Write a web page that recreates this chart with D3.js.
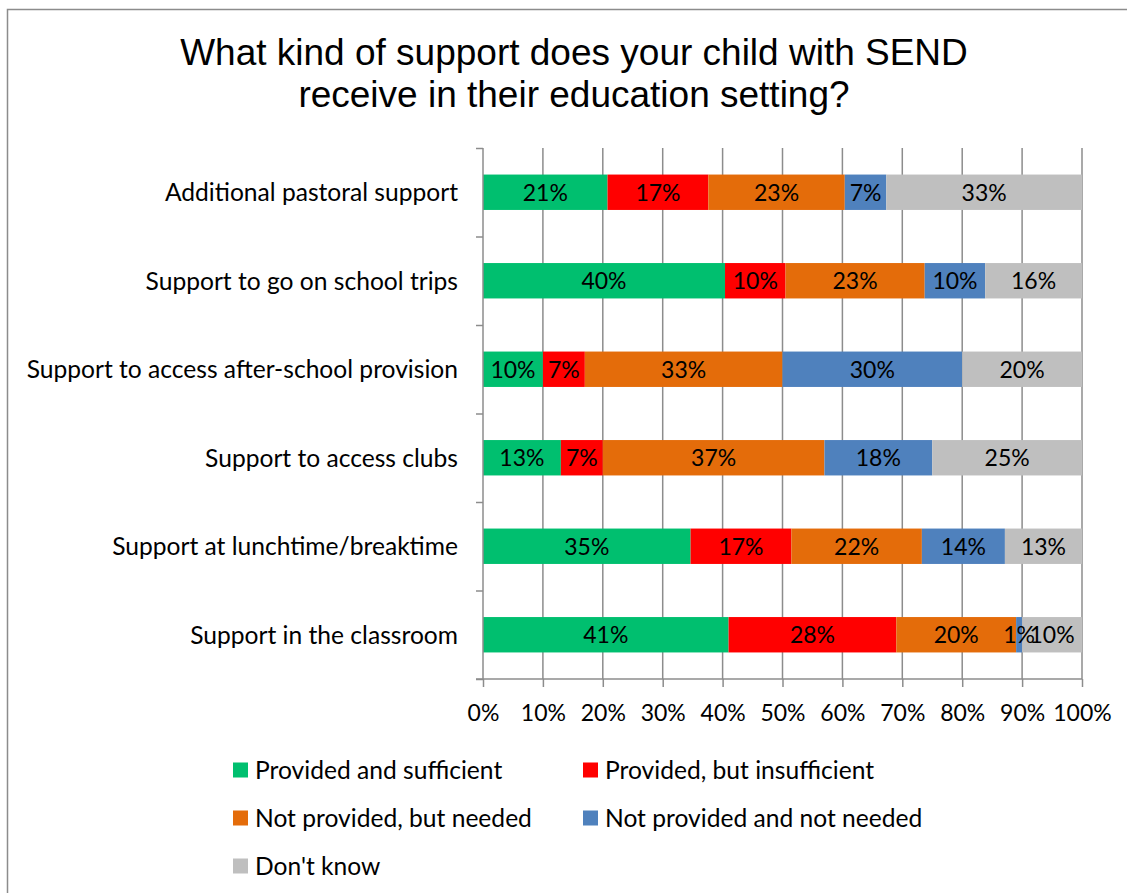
<!DOCTYPE html>
<html>
<head>
<meta charset="utf-8">
<script src="https://cdn.jsdelivr.net/npm/d3@7"></script>
<style>
  html, body { margin: 0; padding: 0; background: #fff; }
  svg { display: block; }
</style>
</head>
<body>
<svg id="chart" width="1127" height="893"></svg>
<script>
// Support categories, top to bottom
const categories = [
  "Additional pastoral support",
  "Support to go on school trips",
  "Support to access after-school provision",
  "Support to access clubs",
  "Support at lunchtime/breaktime",
  "Support in the classroom"
];

const seriesNames = [
  "Provided and sufficient",
  "Provided, but insufficient",
  "Not provided, but needed",
  "Not provided and not needed",
  "Don't know"
];

// Percentages per category, one array per response
const providedSufficient   = [21, 40, 10, 13, 35, 41];
const providedInsufficient = [17, 10,  7,  7, 17, 28];
const notProvidedNeeded    = [23, 23, 33, 37, 22, 20];
const notProvidedNotNeeded = [ 7, 10, 30, 18, 14,  1];
const dontKnow             = [33, 16, 20, 25, 13, 10];

const seriesColors = ["#00BF6F", "#FF0000", "#E46C0A", "#4F81BD", "#BFBFBF"];

const xTicks = [0, 0.1, 0.2, 0.3, 0.4, 0.5, 0.6, 0.7, 0.8, 0.9, 1.0];

const rows = categories.map((c, i) => ({
  category: c,
  [seriesNames[0]]: providedSufficient[i],
  [seriesNames[1]]: providedInsufficient[i],
  [seriesNames[2]]: notProvidedNeeded[i],
  [seriesNames[3]]: notProvidedNotNeeded[i],
  [seriesNames[4]]: dontKnow[i]
}));

const stacked = d3.stack()
  .keys(seriesNames)
  .offset(d3.stackOffsetExpand)(rows);

const svg = d3.select("#chart");
const labelFont = "Lato, 'Open Sans', sans-serif";
const textSize = 24.6;
const numberSize = 23;

// Outer chart frame
svg.append("rect")
  .attr("x", 7.5).attr("y", 9.5)
  .attr("width", 1130).attr("height", 900)
  .attr("fill", "none").attr("stroke", "#8c8c8c").attr("stroke-width", 1.5);

// Title
const title = svg.append("text")
  .attr("text-anchor", "middle")
  .attr("font-family", "'Liberation Sans', Arial, sans-serif")
  .attr("font-size", 37)
  .attr("fill", "#000");
title.append("tspan").attr("x", 574).attr("y", 65).text("What kind of support does your child with SEND");
title.append("tspan").attr("x", 574).attr("y", 107).text("receive in their education setting?");

const plotLeft = 483, plotRight = 1082, plotTop = 148, plotBottom = 679;

const x = d3.scaleLinear().domain([0, 1]).range([plotLeft, plotRight]);
const y = d3.scaleBand().domain(categories).range([plotTop, plotBottom]).paddingInner(0.6).paddingOuter(0.3);

// Vertical gridlines
svg.append("g")
  .selectAll("line")
  .data(xTicks.slice(1))
  .join("line")
  .attr("x1", d => x(d)).attr("x2", d => x(d))
  .attr("y1", plotTop).attr("y2", plotBottom)
  .attr("stroke", "#8c8c8c").attr("stroke-width", 1.5);

// Stacked bars
const segments = stacked.flatMap((layer, i) =>
  layer.map(v => ({ v, key: layer.key, color: seriesColors[i] })));

svg.append("g")
  .selectAll("rect")
  .data(segments)
  .join("rect")
  .attr("x", d => x(d.v[0]))
  .attr("y", d => y(d.v.data.category))
  .attr("width", d => x(d.v[1]) - x(d.v[0]))
  .attr("height", y.bandwidth())
  .attr("fill", d => d.color);

// Value labels, drawn above every segment
svg.append("g")
  .selectAll("text")
  .data(segments)
  .join("text")
  .attr("x", d => (x(d.v[0]) + x(d.v[1])) / 2)
  .attr("y", d => y(d.v.data.category) + y.bandwidth() / 2)
  .attr("dy", "0.36em")
  .attr("text-anchor", "middle")
  .attr("font-family", labelFont)
  .attr("font-size", numberSize)
  .attr("fill", "#000")
  .text(d => d.v.data[d.key] + "%");

// Category axis
const yAxis = d3.axisLeft(d3.scaleLinear().domain([0, categories.length]).range([plotTop, plotBottom]))
  .ticks(categories.length).tickSize(7).tickFormat("");
const yg = svg.append("g").attr("transform", `translate(${plotLeft},0)`).call(yAxis);
yg.selectAll("path, line").attr("stroke", "#8c8c8c").attr("stroke-width", 1.5);
yg.select(".domain").attr("d", `M0,${plotTop}V${plotBottom}`);

// Category labels
svg.append("g")
  .selectAll("text")
  .data(categories)
  .join("text")
  .attr("x", 458)
  .attr("y", d => y(d) + y.bandwidth() / 2)
  .attr("dy", "0.36em")
  .attr("text-anchor", "end")
  .attr("font-family", labelFont)
  .attr("font-size", textSize)
  .attr("fill", "#000")
  .text(d => d);

// Percentage axis
const xAxis = d3.axisBottom(x).tickValues(xTicks).tickSize(8).tickPadding(18)
  .tickFormat(d3.format(".0%"));
const xg = svg.append("g").attr("transform", `translate(0,${plotBottom})`).call(xAxis);
xg.selectAll("path, line").attr("stroke", "#8c8c8c").attr("stroke-width", 1.5);
xg.select(".domain").attr("d", `M${plotLeft - 7},0H${plotRight}`);
xg.selectAll("text")
  .attr("font-family", labelFont)
  .attr("font-size", numberSize)
  .attr("fill", "#000");

// Legend
const legendPos = [
  [233, 770], [583, 770],
  [233, 818], [583, 818],
  [233, 866]
];
const legend = svg.append("g")
  .selectAll("g")
  .data(seriesNames)
  .join("g")
  .attr("transform", (d, i) => `translate(${legendPos[i][0]},${legendPos[i][1]})`);
legend.append("rect")
  .attr("x", 0).attr("y", -7.5)
  .attr("width", 15).attr("height", 15)
  .attr("fill", (d, i) => seriesColors[i]);
legend.append("text")
  .attr("x", 22).attr("y", 0)
  .attr("dy", "0.36em")
  .attr("font-family", labelFont)
  .attr("font-size", textSize)
  .attr("fill", "#000")
  .text(d => d);
</script>
</body>
</html>
